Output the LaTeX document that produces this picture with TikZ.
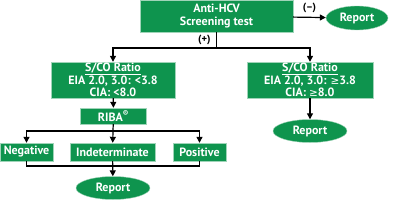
\documentclass[tikz,border=0pt]{standalone}
\usepackage{fontspec}
\setmainfont{PT Sans}
\newfontfamily\symfont{DejaVu Sans}
\usepackage{xcolor}
\usepackage{tikz}
\usetikzlibrary{arrows.meta,positioning,calc,shapes.geometric}
\definecolor{hcvgreen}{RGB}{14,148,78}
\newcommand{\SCO}{\underline{S/CO Ratio}}
\newcommand{\GE}{{\symfont\mdseries\fontsize{10.5}{10}\selectfont ≥}}

\begin{document}
\begin{tikzpicture}[x=1pt,y=-1pt,
  box/.style={fill=hcvgreen,draw=hcvgreen!40,line width=0.4pt,inner sep=0pt,align=center,
    text=white,font=\bfseries\fontsize{12}{12.2}\selectfont},
  oval/.style={box,ellipse},
  lbl/.style={font=\bfseries\fontsize{10.5}{11}\selectfont},
  arr/.style={-{Triangle[length=6pt,width=6pt]},line width=1.2pt},
  ln/.style={line width=1.2pt}]
  \useasboundingbox (0,0) rectangle (400,201);
  \node[box,minimum width=153pt,minimum height=32pt] (screen) at (216.5,16) {Anti-HCV\\ Screening test};
  \node[oval,minimum width=62pt,minimum height=24pt] (rep1) at (357,18) {Report};
  \node[box,minimum width=124pt,minimum height=36pt] (low) at (113,80) {\SCO\\ EIA 2.0, 3.0: <3.8\\ CIA: <8.0};
  \node[box,minimum width=126pt,minimum height=36pt] (high) at (310,80) {\SCO\\ EIA 2.0, 3.0: \GE3.8\\ CIA: \GE8.0};
  \node[oval,minimum width=74pt,minimum height=23pt] (rep2) at (310,131) {Report};
  \node[box,minimum width=66pt,minimum height=16pt] (riba) at (113.5,116) {RIBA\textsuperscript{®}};
  \node[box,minimum width=53pt,minimum height=18pt] (neg) at (26.5,152) {Negative};
  \node[box,minimum width=85pt,minimum height=18pt] (indet) at (112.5,152) {Indeterminate};
  \node[box,minimum width=53pt,minimum height=18pt] (pos) at (199.5,152) {Positive};
  \node[oval,minimum width=74pt,minimum height=23pt] (rep3) at (113,188) {Report};
  % branches
  \coordinate (split) at (216.5,48);
  \coordinate (fork) at (113,131);
  \coordinate (join) at (113,166);
  \draw[arr] (screen) -- node[lbl,above=1pt] {(--)} (rep1);
  \draw[ln] (screen) -- node[lbl,left=2pt] {(+)} (split);
  \draw[arr] (split) -| (low);
  \draw[arr] (split) -| (high);
  \draw[arr] (high) -- (rep2);
  \draw[arr] (low) -- (riba);
  \draw[ln] (riba) -- (fork);
  \draw[arr] (fork) -| (neg);
  \draw[arr] (fork) -- (indet);
  \draw[arr] (fork) -| (pos);
  \draw[ln] (neg) |- (join) -| (pos);
  \draw[arr] (indet) -- (rep3);
\end{tikzpicture}
\end{document}
